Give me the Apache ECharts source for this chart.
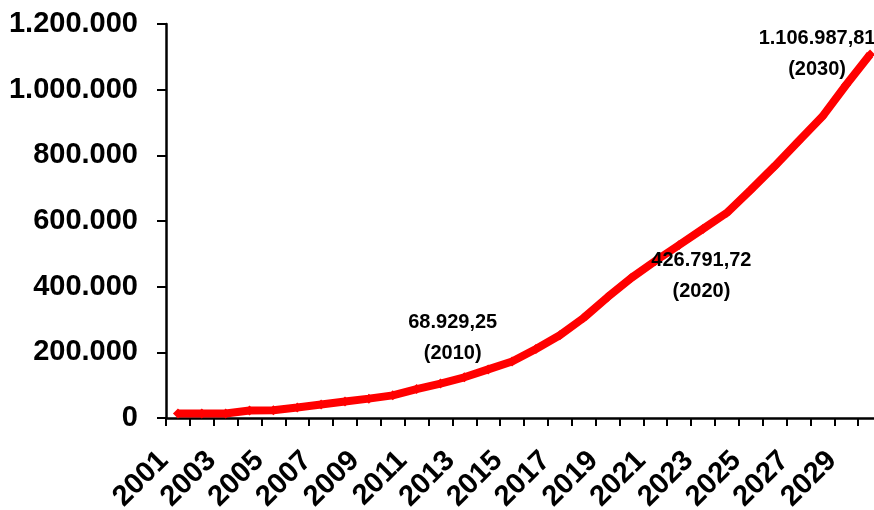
<!DOCTYPE html>
<html>
<head>
<meta charset="utf-8">
<script src="https://cdn.jsdelivr.net/npm/echarts@6/dist/echarts.min.js"></script>
<style>
  html, body { margin: 0; padding: 0; background: #ffffff; }
  #chart { width: 874px; height: 510px; }
</style>
</head>
<body>
<div id="chart"></div>
<script>
// Years on the category axis
const years = [
  '2001','2002','2003','2004','2005','2006','2007','2008','2009','2010',
  '2011','2012','2013','2014','2015','2016','2017','2018','2019','2020',
  '2021','2022','2023','2024','2025','2026','2027','2028','2029','2030'
];

// Yearly totals
const values = [
  14000, 13500, 13500, 23000, 23500, 32000, 41000, 50000, 59000, 68929.25,
  88000, 105000, 124000, 148000, 172000, 210000, 252000, 305000, 368000, 426791.72,
  478000, 527000, 576000, 625000, 695000, 767000, 843000, 918000, 1015000, 1106987.81
];

// Years whose value is written next to the line, with the text drawn
const callouts = {
  '2010': '68.929,25\n(2010)',
  '2020': '426.791,72\n(2020)',
  '2030': '1.106.987,81\n(2030)'
};
const calloutOffsets = {
  '2010': [60, -57],
  '2020': [70, -2],
  '2030': [-53, -1]
};

// Value axis range and ticks
const yMin = 0;
const yMax = 1200000;
const yStep = 200000;

function thousands(v) {
  return String(Math.round(v)).replace(/\B(?=(\d{3})+(?!\d))/g, '.');
}

const seriesData = values.map(function (v, i) {
  const y = years[i];
  if (!callouts[y]) return v;
  return {
    value: v,
    label: {
      show: true,
      position: 'inside',
      offset: calloutOffsets[y],
      formatter: callouts[y],
      fontFamily: 'Liberation Sans, Arial, sans-serif',
      fontWeight: 'bold',
      fontSize: 20,
      lineHeight: 31,
      color: '#000000',
      align: 'center',
      verticalAlign: 'middle'
    }
  };
});

const chart = echarts.init(document.getElementById('chart'), null, { renderer: 'canvas' });

chart.setOption({
  animation: false,
  backgroundColor: '#ffffff',
  grid: {
    left: 166, top: 24, width: 716, height: 394,
    containLabel: false,
    outerBoundsMode: 'none'
  },
  xAxis: {
    type: 'category',
    data: years,
    boundaryGap: true,
    axisLine: { show: true, lineStyle: { color: '#000000', width: 2.5 } },
    axisTick: { show: true, interval: 0, length: 8, lineStyle: { color: '#000000', width: 2 } },
    axisLabel: {
      interval: 1,
      rotate: 45,
      margin: 24,
      padding: [0, 20, 0, 0],
      fontFamily: 'Liberation Sans, Arial, sans-serif',
      fontWeight: 'bold',
      fontSize: 29,
      color: '#000000'
    },
    splitLine: { show: false }
  },
  yAxis: {
    type: 'value',
    min: yMin,
    max: yMax,
    interval: yStep,
    axisLine: { show: true, lineStyle: { color: '#000000', width: 2.5 } },
    axisTick: { show: true, length: 9, lineStyle: { color: '#000000', width: 2 } },
    axisLabel: {
      margin: 28,
      formatter: thousands,
      fontFamily: 'Liberation Sans, Arial, sans-serif',
      fontWeight: 'bold',
      fontSize: 29,
      color: '#000000'
    },
    splitLine: { show: false }
  },
  series: [{
    type: 'line',
    data: seriesData,
    showSymbol: true,
    symbol: 'diamond',
    symbolSize: 10,
    itemStyle: { color: '#ff0000' },
    lineStyle: { color: '#ff0000', width: 8 },
    label: { show: false },
    emphasis: { disabled: true }
  }]
});
</script>
</body>
</html>
